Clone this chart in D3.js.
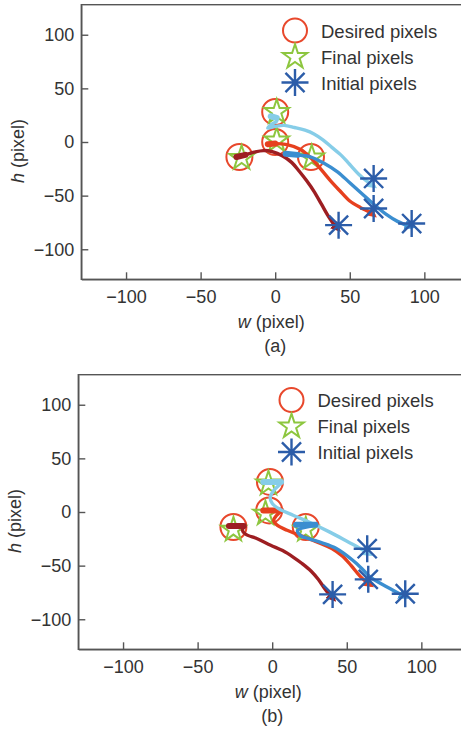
<!DOCTYPE html>
<html>
<head>
<meta charset="utf-8">
<script src="https://cdn.jsdelivr.net/npm/d3@7"></script>
<style>
  html, body { margin: 0; padding: 0; background: #fff; overflow: hidden; }
  svg { display: block; font-family: "Liberation Sans", Arial, Helvetica, sans-serif; }
</style>
</head>
<body>
<svg id="chart" width="461" height="729"></svg>
<script>
// tick values shared by both panels
var xTicks = [-100, -50, 0, 50, 100];
var yTicks = [-100, -50, 0, 50, 100];
var legendLabels = ["Desired pixels", "Final pixels", "Initial pixels"];

// panel (a)
var desiredA = [[0, 28], [0, 0], [-24, -14], [24, -14]];
var finalA = [[1, 28], [1, 1.5], [-22.5, -15], [24.5, -14.5]];
var initialA = [[66, -34], [66, -62], [42.5, -77.5], [91.5, -76]];
var darkRedA = [[-26, -14], [-20, -12], [-14, -9.5], [-8, -8], [-2, -9], [5, -13], [11, -19], [16, -27], [21, -36], [26, -46], [31, -58], [36, -70], [40, -78], [42, -81]];
var redA = [[-5, -2], [0, -1.5], [8, -2.5], [17, -7], [24, -15], [31, -26], [37, -36], [43, -45], [50, -55], [57, -61], [63, -65], [66, -68]];
var lightBlueA = [[-3, 24], [1, 22.5], [1, 19.5], [-3, 16], [-5, 13], [0, 14.5], [6, 15.5], [13, 13.5], [20, 11], [26, 7.5], [32, 2], [38, -5], [44, -12], [50, -21], [56, -30], [61, -36], [66, -41]];
var midBlueA = [[7, -11], [15, -12], [24, -14], [33, -20], [42, -28], [50, -38], [58, -48], [66, -58], [74, -67], [82, -74], [91, -79]];

// panel (b)
var desiredB = [[-1.5, 28], [-2, 1.5], [-26, -14], [22.5, -14]];
var finalB = [[-2.5, 26.5], [-4.5, -1.5], [-26, -16.5], [22.5, -16.5]];
var initialB = [[63.7, -34.2], [64.4, -62.8], [40.5, -76.8], [89.2, -76.2]];
var darkRedB = [[-29, -13], [-19, -13], [-20, -17], [-18, -20.5], [-10, -25], [-1, -31], [7, -36], [14, -42], [20, -48], [26, -55], [31, -63], [35, -71], [39, -78], [41, -81]];
var redB = [[-6, 1.5], [6, 1.5], [3, -3], [1, -7.5], [3, -12], [10, -17], [21, -23], [32, -29], [40, -34], [47, -41], [53, -50], [59, -60], [63, -65], [66, -68]];
var lightBlueB = [[-6, 28], [6, 28], [1, 20], [-1.3, 14], [0, 8], [4.5, 3], [14, -3], [25, -9.5], [39, -19], [51, -28], [59, -34], [65, -39]];
var midBlueB = [[16, -12], [29, -12], [17, -17], [19, -22], [25, -25], [33, -28.5], [43, -34], [54, -45], [61, -54], [66, -61], [77, -70], [89, -79]];

var trajColors = ["#9d1e22", "#e6401e", "#86cde8", "#3b8ed0"];

var svg = d3.select("#chart");

// asterisk marker: plus and times together
var asterisk = {
  draw: function(context, size) {
    var r = Math.sqrt(size) / 2, d = r * Math.SQRT1_2;
    context.moveTo(-r, 0); context.lineTo(r, 0);
    context.moveTo(0, -r); context.lineTo(0, r);
    context.moveTo(-d, -d); context.lineTo(d, d);
    context.moveTo(-d, d); context.lineTo(d, -d);
  }
};
var starPath = d3.symbol().type(d3.symbolStar).size(185)();
var astPath = d3.symbol().type(asterisk).size(27 * 27)();

var defs = svg.append("defs");
trajColors.forEach(function(c, i) {
  defs.append("marker")
    .attr("id", "arr" + i)
    .attr("viewBox", "0 -5 10 10")
    .attr("refX", 6)
    .attr("markerWidth", 3)
    .attr("markerHeight", 3)
    .attr("orient", "auto")
    .append("path")
    .attr("d", "M0,-5L10,0L0,5Z")
    .attr("fill", c);
});

function panel(o) {
  var x = d3.scaleLinear().domain([-130, 130]).range([o.left, o.left + 260 * 1.4915]);
  var y = d3.scaleLinear().domain([-128, 128]).range([o.bottom, o.top]);
  var g = svg.append("g");

  // frame
  g.append("rect")
    .attr("x", x(-130)).attr("y", y(128))
    .attr("width", x(130) - x(-130)).attr("height", y(-128) - y(128))
    .attr("fill", "none").attr("stroke", "#555").attr("stroke-width", 1.4);

  var xAxis = g.append("g")
    .attr("transform", "translate(0," + y(-128) + ")")
    .call(d3.axisBottom(x).tickValues(xTicks).tickSize(-7).tickSizeOuter(0).tickPadding(10.5));
  var yAxis = g.append("g")
    .attr("transform", "translate(" + x(-130) + ",0)")
    .call(d3.axisLeft(y).tickValues(yTicks).tickSize(-7).tickSizeOuter(0).tickPadding(7));
  [xAxis, yAxis].forEach(function(a) {
    a.select(".domain").attr("stroke", "#555").attr("stroke-width", 1.4);
    a.selectAll(".tick line").attr("stroke", "#555").attr("stroke-width", 1.4);
    a.selectAll(".tick text").attr("fill", "#333").style("font-size", "18px")
      .style("font-family", "'Liberation Sans', Arial, sans-serif");
  });

  // axis titles
  var xt = g.append("text")
    .attr("x", x(0) - 4).attr("y", y(-128) + 49)
    .attr("text-anchor", "middle").attr("fill", "#333").style("font-size", "18px");
  xt.append("tspan").attr("font-style", "italic").text("w");
  xt.append("tspan").text(" (pixel)");
  g.append("text")
    .attr("x", x(0)).attr("y", y(-128) + 72.5)
    .attr("text-anchor", "middle").attr("fill", "#333").style("font-size", "18px")
    .text(o.tag);
  var yt = g.append("text")
    .attr("transform", "translate(" + (x(-130) - 57) + "," + (y(0) + 9) + ") rotate(-90)")
    .attr("text-anchor", "middle").attr("fill", "#333").style("font-size", "18px");
  yt.append("tspan").attr("font-style", "italic").text("h");
  yt.append("tspan").text(" (pixel)");

  // desired circles
  g.selectAll(".des").data(o.desired).enter().append("circle")
    .attr("cx", function(d) { return x(d[0]); })
    .attr("cy", function(d) { return y(d[1]); })
    .attr("r", 13)
    .attr("fill", "none").attr("stroke", "#e8482c").attr("stroke-width", 2);

  // final stars
  g.selectAll(".fin").data(o.final).enter().append("path")
    .attr("d", starPath)
    .attr("transform", function(d) { return "translate(" + x(d[0]) + "," + y(d[1]) + ")"; })
    .attr("fill", "none").attr("stroke", "#8dc63f").attr("stroke-width", 2);

  // trajectories
  var line = d3.line()
    .x(function(d) { return x(d[0]); })
    .y(function(d) { return y(d[1]); })
    .curve(d3.curveCatmullRom.alpha(0.5));
  o.trajs.forEach(function(t, i) {
    g.append("path")
      .attr("d", line(t))
      .attr("fill", "none")
      .attr("stroke", trajColors[i])
      .attr("stroke-width", 3.4)
      .attr("stroke-linecap", "round")
      .attr("stroke-linejoin", "round")
      .attr("marker-end", "url(#arr" + i + ")");
    // thick start stub
    g.append("path")
      .attr("d", d3.line().x(function(d) { return x(d[0]); }).y(function(d) { return y(d[1]); })(t.slice(0, 2)))
      .attr("fill", "none")
      .attr("stroke", trajColors[i])
      .attr("stroke-width", 6)
      .attr("stroke-linecap", "round");
  });

  // initial asterisks
  g.selectAll(".ini").data(o.initial).enter().append("path")
    .attr("d", astPath)
    .attr("transform", function(d) { return "translate(" + x(d[0]) + "," + y(d[1]) + ")"; })
    .attr("fill", "none").attr("stroke", "#2c5da9").attr("stroke-width", 2.4);

  // legend
  var lx = o.legX, ly = o.legY;
  g.append("circle").attr("cx", lx).attr("cy", ly).attr("r", 12)
    .attr("fill", "none").attr("stroke", "#e8482c").attr("stroke-width", 2);
  g.append("path").attr("d", starPath)
    .attr("transform", "translate(" + lx + "," + (ly + 26.5) + ")")
    .attr("fill", "none").attr("stroke", "#8dc63f").attr("stroke-width", 2);
  g.append("path").attr("d", astPath)
    .attr("transform", "translate(" + lx + "," + (ly + 52) + ")")
    .attr("fill", "none").attr("stroke", "#2c5da9").attr("stroke-width", 2.4);
  g.selectAll(".leg").data(legendLabels).enter().append("text")
    .attr("x", lx + 26)
    .attr("y", function(d, i) { return ly + 7 + i * 26.2; })
    .attr("fill", "#333").style("font-size", "18.5px")
    .text(function(d) { return d; });
}

panel({
  left: 81.3, top: 4.7, bottom: 279.3, tag: "(a)",
  desired: desiredA, final: finalA, initial: initialA,
  trajs: [darkRedA, redA, lightBlueA, midBlueA],
  legX: 295, legY: 30.5
});
panel({
  left: 78.3, top: 374.7, bottom: 649.3, tag: "(b)",
  desired: desiredB, final: finalB, initial: initialB,
  trajs: [darkRedB, redB, lightBlueB, midBlueB],
  legX: 291.5, legY: 400
});
</script>
</body>
</html>
